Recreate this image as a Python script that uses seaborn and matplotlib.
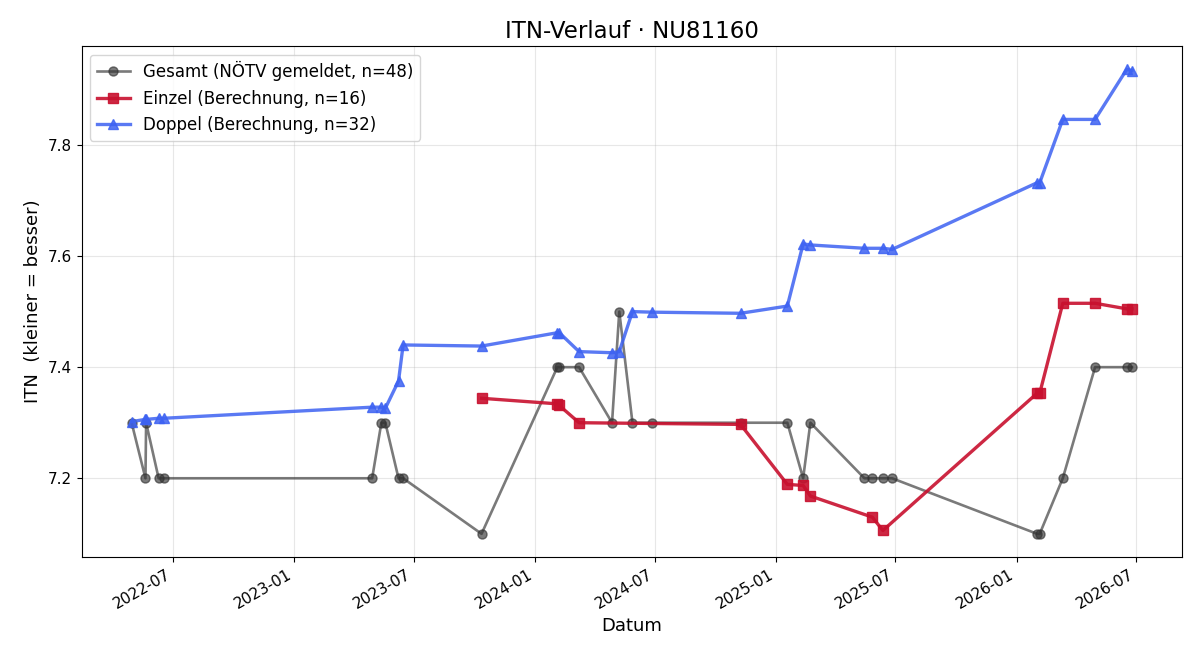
import matplotlib
matplotlib.use("Agg")
import matplotlib.pyplot as plt
import seaborn as sns
import pandas as pd

# --- Data ---
gesamt_dates = ["2022-04-29", "2022-05-20", "2022-05-21", "2022-06-09", "2022-06-17",
                "2023-04-29", "2023-05-13", "2023-05-19", "2023-06-08", "2023-06-15",
                "2023-10-12", "2024-02-04", "2024-02-07", "2024-03-08", "2024-04-27",
                "2024-05-08", "2024-05-28", "2024-06-27", "2024-11-08", "2025-01-18",
                "2025-02-11", "2025-02-22", "2025-05-15", "2025-05-27", "2025-06-12",
                "2025-06-26", "2026-02-01", "2026-02-05", "2026-03-12", "2026-04-30",
                "2026-06-17", "2026-06-25"]
gesamt_values = [7.3, 7.2, 7.3, 7.2, 7.2,
                 7.2, 7.3, 7.3, 7.2, 7.2,
                 7.1, 7.4, 7.4, 7.4, 7.3,
                 7.5, 7.3, 7.3, 7.3, 7.3,
                 7.2, 7.3, 7.2, 7.2, 7.2,
                 7.2, 7.1, 7.1, 7.2, 7.4,
                 7.4, 7.4]

einzel_dates = ["2023-10-12", "2024-02-04", "2024-02-07", "2024-03-08", "2024-11-08",
                "2025-01-18", "2025-02-11", "2025-02-22", "2025-05-27", "2025-06-12",
                "2026-02-01", "2026-02-05", "2026-03-12", "2026-04-30", "2026-06-17",
                "2026-06-25"]
einzel_values = [7.344, 7.334, 7.331, 7.300, 7.297,
                 7.189, 7.187, 7.168, 7.130, 7.106,
                 7.353, 7.353, 7.515, 7.515, 7.505,
                 7.505]

doppel_dates = ["2022-04-29", "2022-05-20", "2022-05-21", "2022-06-09", "2022-06-17",
                "2023-04-29", "2023-05-13", "2023-05-19", "2023-06-08", "2023-06-15",
                "2023-10-12", "2024-02-04", "2024-02-07", "2024-03-08", "2024-04-27",
                "2024-05-08", "2024-05-28", "2024-06-27", "2024-11-08", "2025-01-18",
                "2025-02-11", "2025-02-22", "2025-05-15", "2025-06-12", "2025-06-26",
                "2026-02-01", "2026-02-05", "2026-03-12", "2026-04-30", "2026-06-17",
                "2026-06-25"]
doppel_values = [7.302, 7.306, 7.306, 7.308, 7.308,
                 7.328, 7.328, 7.326, 7.375, 7.440,
                 7.438, 7.462, 7.462, 7.428, 7.426,
                 7.428, 7.500, 7.499, 7.497, 7.510,
                 7.622, 7.620, 7.614, 7.614, 7.612,
                 7.732, 7.732, 7.846, 7.846, 7.936,
                 7.934]

labels = ["Gesamt (NÖTV gemeldet, n=48)",
          "Einzel (Berechnung, n=16)",
          "Doppel (Berechnung, n=32)"]

df_g = pd.DataFrame({"Datum": pd.to_datetime(gesamt_dates), "ITN": gesamt_values})
df_e = pd.DataFrame({"Datum": pd.to_datetime(einzel_dates), "ITN": einzel_values})
df_d = pd.DataFrame({"Datum": pd.to_datetime(doppel_dates), "ITN": doppel_values})

fig, ax = plt.subplots(figsize=(12, 6.6), dpi=100)

c_g, c_e, c_d = "#333333", "#c8102e", "#3d62f2"
sns.lineplot(data=df_g, x="Datum", y="ITN", ax=ax, estimator=None, sort=False,
             color=c_g, alpha=0.65, linewidth=1.9, marker="o", markersize=6.5,
             markeredgewidth=1.0, markeredgecolor=c_g, label=labels[0])
sns.lineplot(data=df_e, x="Datum", y="ITN", ax=ax, estimator=None, sort=False,
             color=c_e, alpha=0.9, linewidth=2.4, marker="s", markersize=7.5,
             markeredgewidth=1.0, markeredgecolor=c_e, label=labels[1])
sns.lineplot(data=df_d, x="Datum", y="ITN", ax=ax, estimator=None, sort=False,
             color=c_d, alpha=0.85, linewidth=2.4, marker="^", markersize=7.5,
             markeredgewidth=1.0, markeredgecolor=c_d, label=labels[2])

ax.set_title("ITN-Verlauf · NU81160", fontsize=16.5)
ax.set_xlabel("Datum", fontsize=13)
ax.set_ylabel("ITN  (kleiner = besser)", fontsize=13)
ax.tick_params(labelsize=11)
ax.grid(True, alpha=0.3)
ax.legend(loc="upper left", fontsize=12)
fig.autofmt_xdate()
fig.subplots_adjust(left=0.068, right=0.985, top=0.930, bottom=0.156)
fig.savefig("out.png", dpi=100)
